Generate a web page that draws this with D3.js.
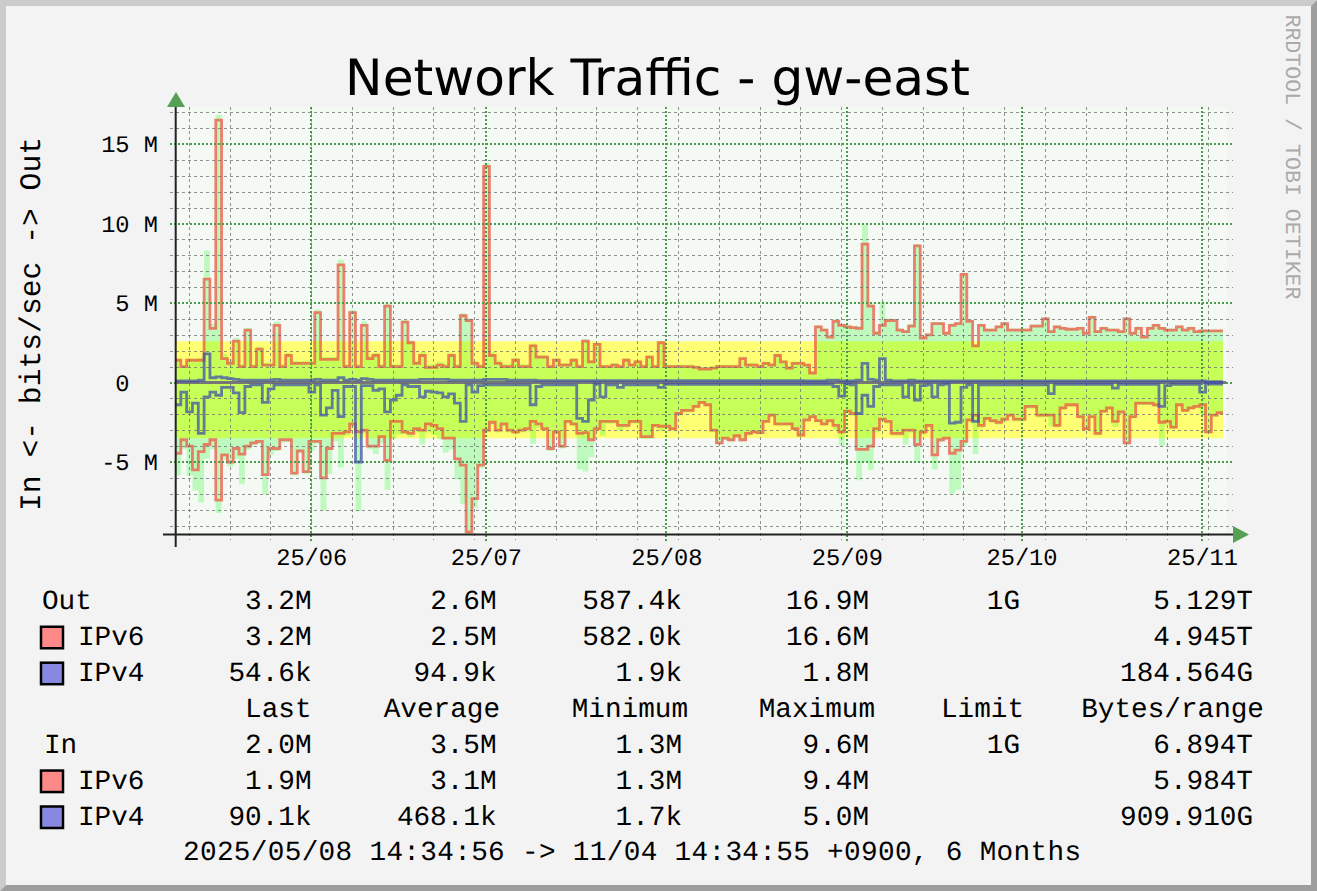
<!DOCTYPE html>
<html>
<head>
<meta charset="utf-8">
<script src="https://cdn.jsdelivr.net/npm/d3@7/dist/d3.min.js"></script>
<style>
body { margin: 0; background: #f3f3f3; }
svg text { font-family: "Liberation Mono", monospace; fill: #000; text-rendering: geometricPrecision; }
.pre { white-space: pre; }
</style>
</head>
<body>
<script>
// time range (KST wall clock, kept as UTC so ticks land on local month/week starts)
const tStart = Date.UTC(2025, 4, 8, 14, 34, 56);
const tEnd = Date.UTC(2025, 10, 4, 14, 34, 55);

// daily values in Mbit/s
const out6 = [1.4,1.0,1.4,1.4,1.4,6.5,3.4,16.5,1.5,1.2, 2.6,1.0,3.3,1.0,2.1,1.1,1.1,3.6,1.0,1.7,
  1.2,1.2,1.2,1.2,4.4,1.45,1.45,1.45,7.4,1.0, 4.4,1.0,3.6,1.5,1.7,1.0,4.8,1.0,1.0,3.8,
  2.5,1.2,1.7,0.95,0.95,1.1,1.0,1.7,1.0,4.2, 3.9,1.2,1.0,13.6,1.7,1.2,1.0,1.0,1.4,1.0,
  1.0,2.3,1.6,1.6,1.0,1.4,1.1,1.1,1.4,1.0, 2.6,1.3,2.4,1.0,1.0,1.1,1.0,1.4,1.1,1.3,
  1.0,1.6,1.0,2.5,1.0,1.0,1.0,1.0,1.0,0.95, 0.85,0.85,0.9,1.0,1.0,1.0,1.0,1.5,1.1,1.1,
  1.0,1.2,1.1,1.7,1.3,0.9,1.2,1.2,1.1,0.6, 3.5,3.3,2.85,3.85,3.6,3.5,3.45,3.4,8.7,4.8,
  3.1,3.6,3.9,3.9,3.3,3.2,3.55,8.6,2.8,3.0, 3.7,3.7,3.1,3.6,3.7,6.8,3.85,2.3,3.6,3.3,
  3.3,3.5,3.7,3.3,3.3,3.3,3.3,3.55,3.55,4.0, 3.2,3.5,3.4,3.35,3.35,3.4,3.1,4.1,3.2,3.4,
  3.3,3.3,3.2,4.0,3.1,3.4,2.85,3.4,3.6,3.4, 3.3,3.3,3.5,3.3,3.4,3.2,3.25,3.25,3.25,3.25];
const out4 = [0.1,0.1,0.1,0.1,0.15,1.8,0.3,0.35,0.3,0.25, 0.2,0.15,0.15,0.15,0.15,0.15,0.15,0.2,0.15,0.15,
  0.15,0.15,0.15,0.15,0.2,0.15,0.15,0.15,0.3,0.15, 0.2,0.15,0.25,0.2,0.15,0.15,0.15,0.15,0.15,0.15,
  0.15,0.15,0.2,0.2,0.2,0.2,0.2,0.15,0.15,0.15, 0.15,0.15,0.15,0.2,0.2,0.2,0.2,0.15,0.15,0.15,
  0.15,0.15,0.12,0.12,0.12,0.12,0.12,0.12,0.12,0.12, 0.12,0.12,0.12,0.12,0.12,0.12,0.12,0.12,0.12,0.12,
  0.12,0.12,0.12,0.12,0.12,0.12,0.12,0.12,0.12,0.12, 0.12,0.12,0.12,0.12,0.12,0.12,0.12,0.12,0.12,0.12,
  0.12,0.12,0.12,0.12,0.12,0.12,0.12,0.12,0.1,0.1, 0.1,0.1,0.15,0.15,0.1,0.1,0.1,0.15,1.2,0.2,
  0.15,1.5,0.15,0.1,0.1,0.1,0.15,0.1,0.1,0.1, 0.1,0.1,0.1,0.1,0.1,0.1,0.1,0.1,0.1,0.1,
  0.1,0.1,0.1,0.1,0.1,0.1,0.1,0.1,0.1,0.1, 0.1,0.1,0.1,0.1,0.1,0.1,0.1,0.1,0.1,0.1,
  0.1,0.1,0.1,0.1,0.1,0.1,0.1,0.1,0.1,0.1, 0.1,0.1,0.1,0.1,0.1,0.1,0.1,0.05,0.05,0.05];
const in6 = [4.45,3.6,4.0,5.5,4.35,3.9,3.6,7.4,4.55,5.0, 4.15,4.5,4.0,3.8,3.7,5.8,4.15,4.15,3.6,3.6,
  5.7,4.3,5.6,3.7,3.7,6.0,4.15,3.2,3.2,3.1, 2.6,3.1,3.0,4.0,4.0,3.4,4.9,2.45,2.45,3.1,
  3.2,2.9,3.0,2.6,2.7,2.9,3.5,3.5,4.8,5.2, 9.4,7.3,5.2,3.0,2.5,3.0,2.6,3.0,3.1,3.0,
  2.9,2.45,2.6,2.9,4.15,3.1,4.0,2.45,2.6,3.2, 3.15,3.6,2.9,2.45,2.45,2.45,2.7,2.7,2.45,2.45,
  3.4,3.4,2.7,2.75,2.75,2.9,1.95,1.75,1.75,1.5, 1.25,1.4,3.0,3.8,3.5,3.6,3.35,3.6,3.2,3.1,
  3.15,2.45,2.05,2.6,2.6,2.6,2.9,3.3,2.35,2.15, 2.4,2.6,2.4,2.7,3.1,1.8,1.95,4.2,4.2,4.0,
  2.9,2.3,2.45,3.2,3.2,3.0,3.0,3.9,3.1,2.7, 4.55,3.6,3.5,4.45,4.25,3.7,2.35,2.05,2.7,2.25,
  2.4,2.5,2.3,2.05,2.3,2.3,1.5,1.5,2.05,2.05, 2.05,2.7,1.6,1.4,1.4,2.15,2.9,2.15,3.2,1.8,
  1.6,2.45,1.85,3.8,2.15,1.3,1.3,1.3,1.4,2.5, 2.45,2.8,1.4,1.75,1.6,1.5,1.4,3.1,2.05,1.9];
const in4 = [1.4,0.6,1.85,1.3,3.2,0.9,0.6,0.8,0.3,0.3, 0.65,1.9,0.25,0.15,0.15,1.25,0.4,0.15,0.15,0.15,
  0.15,0.15,0.15,0.6,0.15,2.05,1.6,0.5,2.15,0.25, 0.25,5.0,0.2,0.2,0.5,0.4,1.85,1.1,0.8,0.15,
  0.25,0.25,0.9,0.55,0.6,0.65,0.9,0.72,1.3,2.45, 0.15,0.6,0.2,0.15,0.15,0.15,0.15,0.15,0.15,0.15,
  0.15,1.4,0.25,0.15,0.15,0.15,0.15,0.15,0.15,2.25, 2.45,1.1,0.1,0.9,0.15,0.15,0.3,0.15,0.15,0.15,
  0.15,0.15,0.15,0.3,0.12,0.12,0.12,0.12,0.12,0.12, 0.12,0.12,0.12,0.12,0.12,0.12,0.12,0.12,0.12,0.12,
  0.12,0.12,0.12,0.12,0.12,0.12,0.12,0.12,0.12,0.12, 0.12,0.12,0.12,0.25,0.85,0.1,0.15,1.95,0.8,1.5,
  0.25,0.15,0.15,0.15,0.15,0.9,0.15,1.1,0.2,0.15, 0.9,0.15,0.1,2.55,2.5,0.3,0.15,2.45,0.15,0.15,
  0.15,0.15,0.15,0.15,0.15,0.15,0.15,0.15,0.15,0.15, 0.7,0.12,0.12,0.12,0.12,0.12,0.12,0.12,0.12,0.12,
  0.12,0.35,0.12,0.12,0.12,0.12,0.12,0.12,0.12,1.5, 0.2,0.12,0.12,0.12,0.12,0.12,0.6,0.1,0.1,0.1];

// averages over the range (yellow band), Mbit/s
const avgOut = 2.6;
const avgIn = 3.5;

// y ticks in Mbit/s
const yMajor = [-5, 0, 5, 10, 15];
const yMinor = d3.range(-9, 18).filter(v => v % 5 !== 0);

// legend table
const legendHead = ["Last", "Average", "Minimum", "Maximum", "Limit", "Bytes/range"];
const legendRows = [
  {label: "Out", swatch: null, vals: ["3.2M", "2.6M", "587.4k", "16.9M", "1G", "5.129T"]},
  {label: "IPv6", swatch: "#ff8888", vals: ["3.2M", "2.5M", "582.0k", "16.6M", "", "4.945T"]},
  {label: "IPv4", swatch: "#8888e0", vals: ["54.6k", "94.9k", "1.9k", "1.8M", "", "184.564G"]},
  {label: null, head: true},
  {label: "In", swatch: null, vals: ["2.0M", "3.5M", "1.3M", "9.6M", "1G", "6.894T"]},
  {label: "IPv6", swatch: "#ff8888", vals: ["1.9M", "3.1M", "1.3M", "9.4M", "", "5.984T"]},
  {label: "IPv4", swatch: "#8888e0", vals: ["90.1k", "468.1k", "1.7k", "5.0M", "", "909.910G"]}
];
const footer = "2025/05/08 14:34:56 -> 11/04 14:34:55 +0900, 6 Months";

const W = 1317, H = 891;
const svg = d3.select("body").append("svg").attr("width", W).attr("height", H);

// frame
svg.append("rect").attr("width", W).attr("height", H).attr("fill", "#f3f3f3");
const fw = 6;
svg.append("path").attr("fill", "#cbcbcb")
  .attr("d", `M0,0H${W}L${W - fw},${fw}H${fw}V${H - fw}L0,${H}Z`);
svg.append("path").attr("fill", "#9e9e9e")
  .attr("d", `M${W},0V${H}H0L${fw},${H - fw}H${W - fw}V${fw}Z`);

const x0 = 175, x1 = 1223, yTop = 107, yBot = 534.5;
const x = d3.scaleUtc().domain([new Date(tStart), new Date(tEnd)]).range([x0, x1]);
const y = d3.scaleLinear().domain([-9.56, 17.33]).range([yBot, yTop]);
const py = v => Math.round(y(v)) + 0.5;
const px = d => Math.round(x(d)) + 0.5;

const days = d3.range(out6.length + 1).map(i => d3.utcDay.offset(new Date(tStart), i));
const pts = (vals, sign) => vals.concat([vals[vals.length - 1]]).map((v, i) => [days[i], sign * v]);

// plot background
svg.append("rect").attr("x", x0).attr("y", yTop).attr("width", 1227 - x0).attr("height", yBot - yTop)
  .attr("fill", "#f4f9f4");

const g = svg.append("g");

// yellow average band
const band = d3.area().curve(d3.curveStepAfter)
  .x(d => x(d[0])).y0(d => y(-avgIn)).y1(d => y(avgOut));
g.append("path").datum(pts(out6, 1)).attr("fill", "#ffff73").attr("d", band);

// totals as translucent green areas
const area = d3.area().curve(d3.curveStepAfter).x(d => x(d[0])).y0(y(0)).y1(d => y(d[1]));
const totOut = out6.map((v, i) => v + out4[i]);
const totIn = in6.map((v, i) => v + in4[i]);
g.append("path").datum(pts(totOut, 1)).attr("fill", "rgba(0,255,0,0.22)").attr("d", area);
g.append("path").datum(pts(totIn, -1)).attr("fill", "rgba(0,255,0,0.22)").attr("d", area);

// grid
const grid = svg.append("g").attr("shape-rendering", "crispEdges");
const minorStroke = "rgba(110,110,110,0.75)", majorStroke = "#4c9c4c";
grid.selectAll("line.hmin").data(yMinor).join("line")
  .attr("x1", 170).attr("x2", 1233).attr("y1", py).attr("y2", py)
  .attr("stroke", minorStroke).attr("stroke-width", 1).attr("stroke-dasharray", "3,3");
const weeks = d3.utcSunday.range(new Date(tStart), new Date(tEnd));
grid.selectAll("line.vmin").data(weeks).join("line")
  .attr("x1", px).attr("x2", px).attr("y1", yTop).attr("y2", 540)
  .attr("stroke", minorStroke).attr("stroke-width", 1).attr("stroke-dasharray", "3,3");
grid.selectAll("line.hmaj").data(yMajor).join("line")
  .attr("x1", 170).attr("x2", 1233).attr("y1", d => Math.round(y(d))).attr("y2", d => Math.round(y(d)))
  .attr("stroke", majorStroke).attr("stroke-width", 2).attr("stroke-dasharray", "2,2");
const months = d3.utcMonth.range(new Date(tStart), new Date(tEnd));
grid.selectAll("line.vmaj").data(months).join("line")
  .attr("x1", d => Math.round(x(d))).attr("x2", d => Math.round(x(d)))
  .attr("y1", yTop).attr("y2", 543)
  .attr("stroke", majorStroke).attr("stroke-width", 2).attr("stroke-dasharray", "2,2");

// lines
const line = d3.line().curve(d3.curveStepAfter).x(d => x(d[0])).y(d => y(d[1]));
const red = "rgba(240,80,65,0.72)", blue = "rgba(60,75,170,0.72)";
g.append("path").datum(pts(out6, 1)).attr("fill", "none").attr("stroke", red).attr("stroke-width", 2.8).attr("d", line);
g.append("path").datum(pts(in6, -1)).attr("fill", "none").attr("stroke", red).attr("stroke-width", 2.8).attr("d", line);
svg.append("line").attr("x1", x0).attr("x2", 1226).attr("y1", y(0)).attr("y2", y(0))
  .attr("stroke", "#777").attr("stroke-width", 3);
svg.append("path").datum(pts(out4, 1)).attr("fill", "none").attr("stroke", blue).attr("stroke-width", 2.8).attr("d", line);
svg.append("path").datum(pts(in4, -1)).attr("fill", "none").attr("stroke", blue).attr("stroke-width", 2.8).attr("d", line);

// axes lines and arrows
svg.append("line").attr("x1", 175.7).attr("x2", 175.7).attr("y1", 106).attr("y2", 547)
  .attr("stroke", "#222").attr("stroke-width", 2);
svg.append("line").attr("x1", 163).attr("x2", 1236).attr("y1", yBot).attr("y2", yBot)
  .attr("stroke", "#222").attr("stroke-width", 2);
svg.append("path").attr("fill", "#55a055").attr("d", "M167,107L176,92L185,107Z");
svg.append("path").attr("fill", "#55a055").attr("d", "M1233,526L1249,534.5L1233,543Z");

// y tick labels
const yAxis = d3.axisLeft(y).tickValues(yMajor).tickSize(0).tickPadding(17)
  .tickFormat(d => d === 0 ? "0  " : d + " M");
svg.append("g").attr("transform", `translate(${x0},0)`).call(yAxis)
  .call(s => s.select(".domain").remove())
  .selectAll("text").attr("class", "pre").attr("font-size", 23.7)
  .style("font-family", "Liberation Mono").attr("fill", "#000");

// x tick labels
const xAxis = d3.axisBottom(x).tickValues(months).tickSize(0).tickPadding(14)
  .tickFormat(d3.utcFormat("%y/%m"));
svg.append("g").attr("transform", `translate(0,${yBot})`).call(xAxis)
  .call(s => s.select(".domain").remove())
  .selectAll("text").attr("font-size", 23.7)
  .style("font-family", "Liberation Mono").attr("fill", "#000");

// title
svg.append("text").attr("x", 657.5).attr("y", 95).attr("text-anchor", "middle")
  .style("font-family", "DejaVu Sans").attr("font-size", 50.2).text("Network Traffic - gw-east");

// vertical unit label
svg.append("text").attr("transform", "translate(40,324) rotate(-90)").attr("text-anchor", "middle")
  .attr("font-size", 29.7).attr("class", "pre").text("In <- bits/sec -> Out");

// watermark
svg.append("text").attr("transform", "translate(1286,157) rotate(90)").attr("text-anchor", "middle")
  .attr("font-size", 21.6).style("fill", "#aaa").attr("class", "pre").text("RRDTOOL / TOBI OETIKER");

// legend
const colEnd = [311.5, 496.6, 682, 869, 1020, 1253];
const headEnd = [311.5, 500, 688, 875, 1024, 1264];
const lg = svg.append("g").attr("font-size", 27.7);
legendRows.forEach((r, i) => {
  const by = 609.3 + i * 35.95;
  if (r.head) {
    legendHead.forEach((h, j) => lg.append("text").attr("x", headEnd[j]).attr("y", by)
      .attr("text-anchor", "end").text(h));
    return;
  }
  if (r.swatch) {
    lg.append("rect").attr("x", 41).attr("y", by - 18.5).attr("width", 22).attr("height", 21.5)
      .attr("fill", r.swatch).attr("stroke", "#000").attr("stroke-width", 2.5);
    lg.append("text").attr("x", 78).attr("y", by).text(r.label);
  } else {
    lg.append("text").attr("x", r.label === "In" ? 44 : 42).attr("y", by).text(r.label);
  }
  r.vals.forEach((v, j) => lg.append("text").attr("x", colEnd[j]).attr("y", by)
    .attr("text-anchor", "end").text(v));
});
lg.append("text").attr("x", 183).attr("y", 860).attr("class", "pre")
  .attr("textLength", 898).attr("lengthAdjust", "spacing").text(footer);
</script>
</body>
</html>
